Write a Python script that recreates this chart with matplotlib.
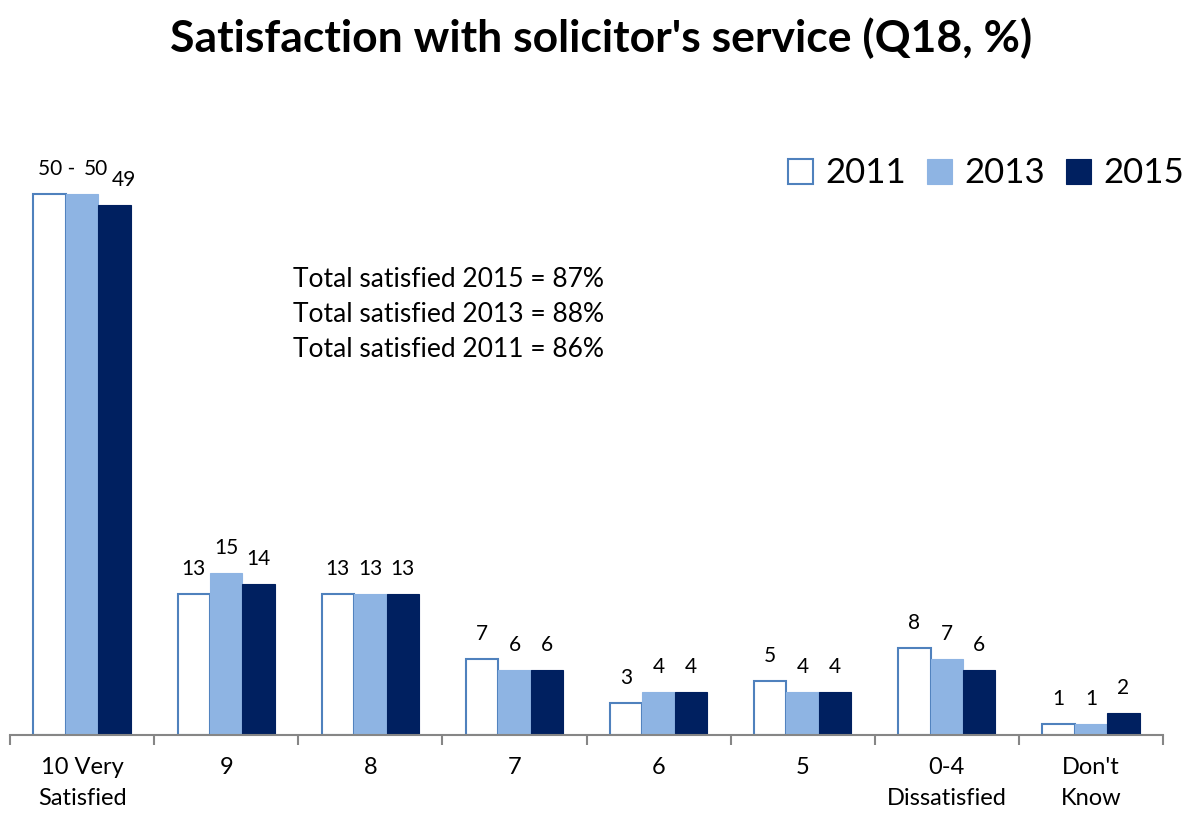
import matplotlib.pyplot as plt
import numpy as np

plt.rcParams['font.family'] = ['Lato', 'DejaVu Sans']

categories = ['10 Very\nSatisfied', '9', '8', '7', '6', '5', '0-4\nDissatisfied', "Don't\nKnow"]
years = ['2011', '2013', '2015']
v2011 = [50, 13, 13, 7, 3, 5, 8, 1]
v2013 = [50, 15, 13, 6, 4, 4, 7, 1]
v2015 = [49, 14, 13, 6, 4, 4, 6, 2]
totals = [('2015', 87), ('2013', 88), ('2011', 86)]

series = [v2011, v2013, v2015]
faces = ['white', '#8EB4E3', '#002060']
edges = ['#4F81BD', '#8EB4E3', '#002060']
# first group's labels run together in the original export
first_labels = ['50 -', '50', '49']
first_shift = [5, 10, 7]

fig = plt.figure(figsize=(12.03, 8.14), dpi=100)
ax = fig.add_axes([10 / 1203, 79 / 814, 1153 / 1203, 649 / 814])

x = np.arange(len(categories))
w = 0.225
for i, vals in enumerate(series):
    xs = x + (i - 1) * w
    ax.bar(xs, vals, width=w, color=faces[i], edgecolor=edges[i],
           linewidth=1.5 if i == 0 else 0.8, label=years[i])
    for j, (xx, v) in enumerate(zip(xs, vals)):
        txt = str(v)
        dx = 0
        if j == 0:
            txt = first_labels[i]
            dx = first_shift[i]
        ax.annotate(txt, (xx, v), xytext=(dx, 18), textcoords='offset points',
                    ha='center', va='center', fontsize=15, color='black')

ax.set_xlim(-0.5, len(categories) - 0.5)
ax.set_ylim(0, 60)
ax.set_xticks(np.arange(len(categories) + 1) - 0.5)
ax.set_xticklabels([])
ax.set_xticks(x, minor=True)
ax.set_xticklabels(categories, minor=True, fontsize=17, linespacing=1.6)
ax.tick_params(axis='x', which='major', length=7, width=1.5, color='#868686', direction='out')
ax.tick_params(axis='x', which='minor', length=0, pad=16)
ax.set_yticks([])
for s in ['top', 'right', 'left']:
    ax.spines[s].set_visible(False)
ax.spines['bottom'].set_color('#868686')
ax.spines['bottom'].set_linewidth(1.5)

ax.text(293 / 1203, 0.672, '\n'.join(f'Total satisfied {y} = {p}%' for y, p in totals),
        transform=fig.transFigure, fontsize=19, linespacing=1.5, va='top', ha='left')

fig.legend(loc='center right', bbox_to_anchor=(1.01, 0.787), ncol=3, frameon=False,
           fontsize=25, handlelength=0.72, handleheight=0.72, handletextpad=0.35,
           columnspacing=0.6)

fig.text(0.5, 0.953, "Satisfaction with solicitor's service (Q18, %)", ha='center',
         va='center', fontsize=32, fontweight='bold')

plt.savefig('out.png', dpi=100)
